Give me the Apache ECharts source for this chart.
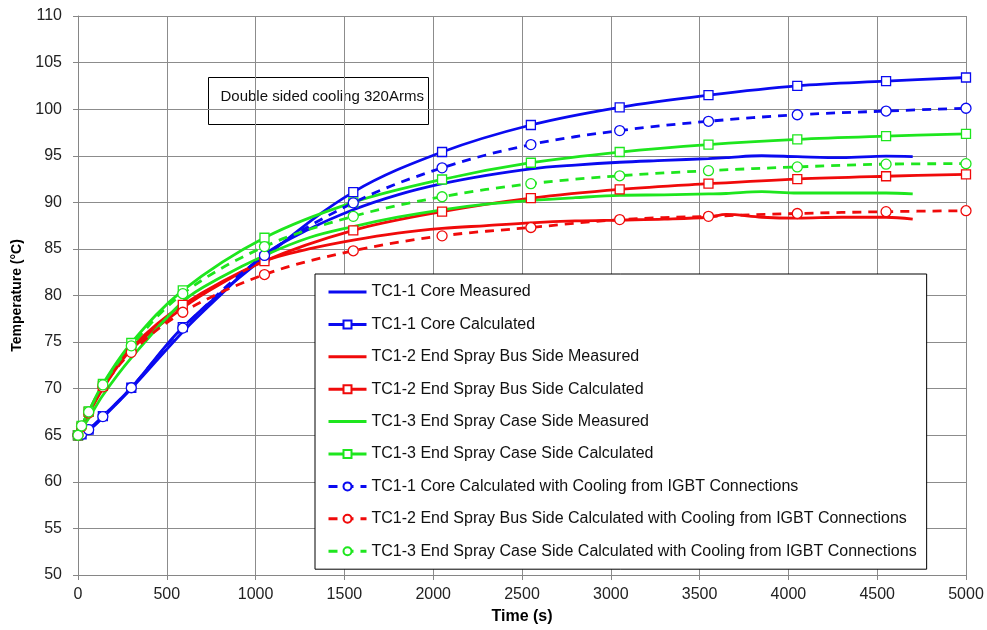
<!DOCTYPE html>
<html>
<head>
<meta charset="utf-8">
<script src="https://cdn.jsdelivr.net/npm/echarts@6/dist/echarts.min.js"></script>
<style>
	html,body{margin:0;padding:0;background:#fff;}
	#chart{width:987px;height:630px;}
</style>
</head>
<body>
<div id="chart"></div>
<script>
	// time points of the calculated curves (s)
	var calcTimes = [0, 20, 60, 140, 300, 590, 1050, 1550, 2050, 2550, 3050, 3550, 4050, 4550, 5000];
	var coreCalc = [65.0, 65.1, 65.6, 67.05, 70.1, 76.6, 84.1, 91.1, 95.4, 98.3, 100.2, 101.5, 102.5, 103.0, 103.4];
	var busCalc = [65.0, 65.9, 67.5, 70.3, 74.4, 79.0, 83.7, 87.0, 89.0, 90.45, 91.4, 92.0, 92.5, 92.8, 93.0];
	var caseCalc = [65.0, 66.0, 67.55, 70.5, 74.9, 80.55, 86.2, 90.0, 92.45, 94.25, 95.4, 96.2, 96.75, 97.1, 97.35];
	var coreCool = [65.0, 65.1, 65.6, 67.0, 70.1, 76.5, 84.3, 89.95, 93.7, 96.2, 97.7, 98.7, 99.4, 99.8, 100.1];
	var busCool = [65.0, 65.9, 67.4, 70.2, 73.9, 78.2, 82.25, 84.8, 86.4, 87.3, 88.15, 88.5, 88.8, 89.0, 89.1];
	var caseCool = [65.0, 66.0, 67.5, 70.4, 74.6, 80.2, 85.25, 88.5, 90.6, 92.0, 92.85, 93.4, 93.8, 94.1, 94.15];

	// measured curves
	var measTimes = [0, 20, 60, 140, 300, 600, 800, 1050, 1300, 1550, 1800, 2050, 2300, 2550, 2800, 3050, 3300, 3550, 3650, 3850, 4050, 4300, 4550, 4700];
	var coreMeas = [65, 65.1, 65.5, 66.9, 70.0, 76.3, 80.0, 84.4, 87.1, 89.2, 90.8, 92.0, 92.9, 93.6, 94.0, 94.3, 94.5, 94.7, 94.8, 95.0, 94.9, 94.8, 94.95, 94.9];
	var busMeas = [65, 66.0, 67.3, 70.0, 74.2, 78.8, 81.2, 83.7, 85.0, 85.95, 86.7, 87.2, 87.5, 87.8, 88.0, 88.1, 88.2, 88.4, 88.7, 88.4, 88.3, 88.4, 88.4, 88.2];
	var caseMeas = [65, 65.7, 66.8, 69.3, 73.3, 79.5, 81.9, 84.3, 86.2, 87.4, 88.4, 89.2, 89.8, 90.2, 90.5, 90.75, 90.8, 90.9, 90.95, 91.15, 91.0, 91.0, 91.0, 90.9];

	var names = [
		'TC1-1 Core Measured',
		'TC1-1 Core Calculated',
		'TC1-2 End Spray Bus Side Measured',
		'TC1-2 End Spray Bus Side Calculated',
		'TC1-3 End Spray Case Side Measured',
		'TC1-3 End Spray Case Side Calculated',
		'TC1-1 Core Calculated with Cooling from IGBT Connections',
		'TC1-2 End Spray Bus Side Calculated with Cooling from IGBT Connections',
		'TC1-3 End Spray Case Side Calculated with Cooling from IGBT Connections'
	];

	var BLUE = '#0a0af0', RED = '#f00a0a', GREEN = '#1ee61e';
	var FONT = 'Liberation Sans';

	function pairs(xs, ys){
		var out = [];
		for(var i = 0; i < xs.length; i++){
			out.push([xs[i], ys[i]]);
		}
		return out;
	}

	function mk(name, xs, ys, color, symbol, dashed){
		return {
			name: name,
			type: 'line',
			smooth: 0.35,
			data: pairs(xs, ys),
			symbol: symbol || 'none',
			symbolSize: symbol === 'rect' ? 9 : 10,
			showSymbol: !!symbol,
			itemStyle: {color: '#fff', borderColor: color, borderWidth: 1.3},
			lineStyle: {color: color, width: 2.8, type: dashed ? [9, 7] : 'solid'},
			emphasis: {disabled: true},
			animation: false
		};
	}

	// measured entries: line only in the legend
	var legendData = names.map(function(n, i){
		if(i === 0 || i === 2 || i === 4){
			return {name: n, itemStyle: {opacity: 0}};
		}
		return {name: n};
	});

	var chart = echarts.init(document.getElementById('chart'), null, {renderer: 'canvas'});

	var option = {
		backgroundColor: '#fff',
		animation: false,
		grid: {left: 78, right: 21, top: 16, bottom: 51},
		xAxis: {
			type: 'value',
			min: 0, max: 5000, interval: 500,
			name: 'Time (s)',
			nameLocation: 'middle',
			nameGap: 34,
			nameTextStyle: {fontFamily: FONT, fontWeight: 'bold', fontSize: 16, color: '#000'},
			axisLine: {show: true, lineStyle: {color: '#868686'}},
			axisTick: {show: true, length: 5, lineStyle: {color: '#868686'}},
			axisLabel: {fontFamily: FONT, fontSize: 16, color: '#222', margin: 12, formatter: function(v){ return String(v); }},
			splitLine: {show: true, lineStyle: {color: '#8c8c8c', width: 1}}
		},
		yAxis: {
			type: 'value',
			min: 50, max: 110, interval: 5,
			name: 'Temperature (°C)',
			nameLocation: 'middle',
			nameGap: 54,
			nameTextStyle: {fontFamily: FONT, fontWeight: 'bold', fontSize: 14, color: '#000'},
			axisLine: {show: true, lineStyle: {color: '#868686'}},
			axisTick: {show: true, length: 5, lineStyle: {color: '#868686'}},
			axisLabel: {fontFamily: FONT, fontSize: 16, color: '#222', margin: 16},
			splitLine: {show: true, lineStyle: {color: '#8c8c8c', width: 1}}
		},
		legend: {
			orient: 'vertical',
			left: 315,
			top: 274,
			padding: [10, 10, 10, 12],
			itemWidth: 38,
			itemHeight: 10,
			itemGap: 16.4,
			backgroundColor: '#fff',
			borderColor: '#000',
			borderWidth: 1,
			selectedMode: false,
			lineStyle: {width: 3},
			textStyle: {fontFamily: FONT, fontSize: 16, color: '#111'},
			data: legendData
		},
		graphic: [{
			type: 'group',
			left: 208,
			top: 77,
			children: [{
				type: 'rect',
				shape: {x: 0, y: 0, width: 220, height: 47},
				style: {fill: '#fff', stroke: '#000', lineWidth: 1}
			}, {
				type: 'text',
				x: 12, y: 19,
				style: {text: 'Double sided cooling 320Arms', font: '15px ' + FONT, fill: '#111', verticalAlign: 'middle'}
			}]
		}],
		series: [
			mk(names[0], measTimes, coreMeas, BLUE),
			mk(names[1], calcTimes, coreCalc, BLUE, 'rect'),
			mk(names[2], measTimes, busMeas, RED),
			mk(names[3], calcTimes, busCalc, RED, 'rect'),
			mk(names[4], measTimes, caseMeas, GREEN),
			mk(names[5], calcTimes, caseCalc, GREEN, 'rect'),
			mk(names[6], calcTimes, coreCool, BLUE, 'circle', true),
			mk(names[7], calcTimes, busCool, RED, 'circle', true),
			mk(names[8], calcTimes, caseCool, GREEN, 'circle', true)
		]
	};

	chart.setOption(option);
</script>
</body>
</html>
